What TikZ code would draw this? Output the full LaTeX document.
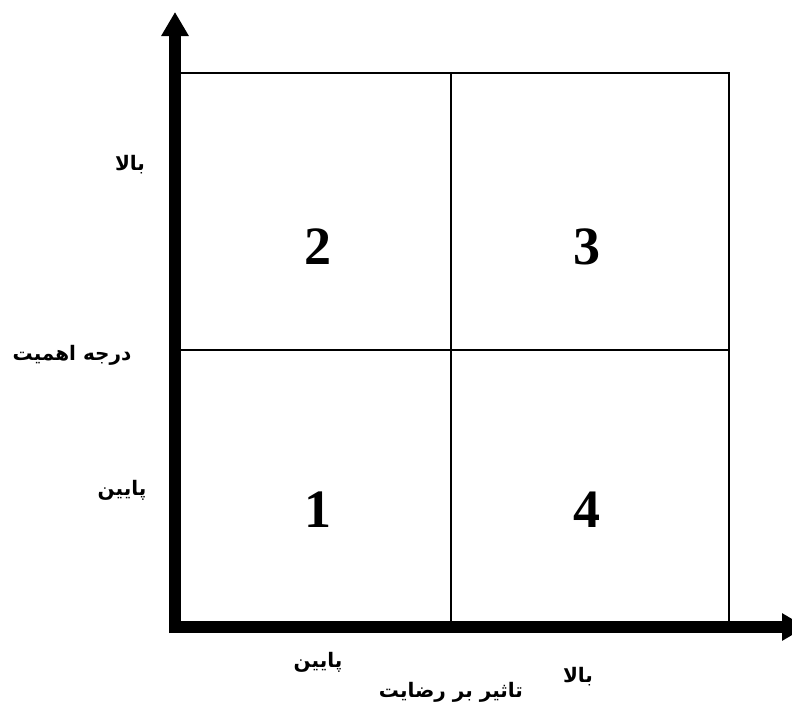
\documentclass[tikz,border=0pt]{standalone}
\usepackage{fontspec}
\usetikzlibrary{arrows.meta}
\TeXXeTstate=1
\newfontfamily\arabicfont[Script=Arabic]{DejaVu Sans}
\newfontfamily\numfont{Liberation Serif}
\tikzset{
  axisline/.style={line width=12pt, -{Triangle[length=24pt,width=26pt]}},
  gridline/.style={line width=1.6pt},
  quadnum/.style={font=\numfont\bfseries\fontsize{54}{60}\selectfont},
  arlabel/.style={font=\arabicfont\bfseries\fontsize{20}{22}\selectfont, inner sep=0pt}
}
\begin{document}
\begin{tikzpicture}[x=1pt,y=-1pt]
\useasboundingbox (0,0) rectangle (792,704);
% grid
\coordinate (tl) at (181,73);
\coordinate (tm) at (451,73);
\coordinate (tr) at (729,73);
\coordinate (ml) at (181,350);
\coordinate (mr) at (729,350);
\coordinate (bm) at (451,627);
\coordinate (br) at (729,627);
\draw[gridline] (tl) -- (tr) -- (br);
\draw[gridline] (tm) -- (bm);
\draw[gridline] (ml) -- (mr);
% axes
\coordinate (origin) at (175,627);
\coordinate (ytip) at (175,12);
\coordinate (xtip) at (806,627);
\draw[axisline] (175,633) -- (ytip);
\draw[axisline] (169,627) -- (xtip);
% numbers
\node[quadnum] (q2) at (318,247) {2};
\node[quadnum] (q3) at (587,247) {3};
\node[quadnum] (q1) at (318,510) {1};
\node[quadnum] (q4) at (587,510) {4};
% labels
\node[arlabel] (yhigh) at (130,165) {\beginR بالا\endR};
\node[arlabel] (ytitle) at (72,355) {\beginR درجه اهمیت\endR};
\node[arlabel] (ylow) at (122,490) {\beginR پایین\endR};
\node[arlabel] (xlow) at (318,662) {\beginR پایین\endR};
\node[arlabel] (xhigh) at (578,677) {\beginR بالا\endR};
\node[arlabel] (xtitle) at (451,692) {\beginR تاثیر بر رضایت\endR};
\end{tikzpicture}
\end{document}
